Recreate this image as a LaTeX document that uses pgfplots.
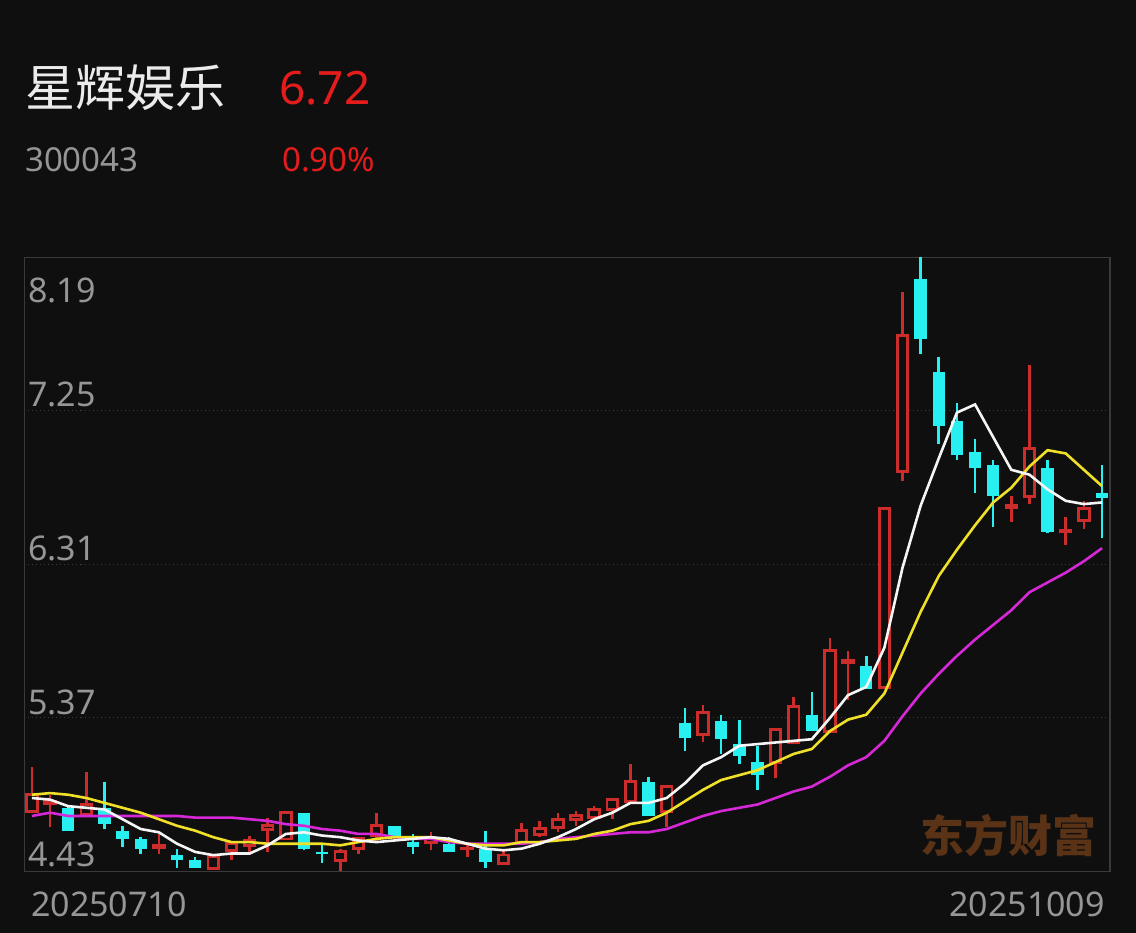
\documentclass[border=0pt]{standalone}
\usepackage{pgfplots}
\pgfplotsset{compat=1.18}
\usepackage{pgfplotstable}
\usepackage{fontspec}
\setmainfont{Noto Sans}
\newfontfamily\cjk{Noto Sans CJK SC}
\definecolor{bgc}{RGB}{15,15,15}
\definecolor{titlec}{RGB}{235,235,235}
\definecolor{lblc}{RGB}{150,150,150}
\definecolor{redtxt}{RGB}{228,28,28}
\definecolor{cup}{RGB}{205,45,42}
\definecolor{cdown}{RGB}{40,240,240}
\definecolor{ma5c}{RGB}{245,245,245}
\definecolor{ma10c}{RGB}{240,225,40}
\definecolor{ma20c}{RGB}{215,40,215}
\definecolor{framec}{RGB}{58,58,58}
\definecolor{gridc}{RGB}{60,60,60}
\definecolor{wmc}{RGB}{90,50,22}

\pgfplotstableread{
i o h l c
0 4.79 5.07 4.79 4.91
1 4.84 4.90 4.70 4.87
2 4.82 4.83 4.68 4.68
3 4.77 5.04 4.77 4.85
4 4.82 4.98 4.69 4.72
5 4.68 4.71 4.58 4.63
6 4.63 4.64 4.54 4.57
7 4.57 4.66 4.54 4.60
8 4.53 4.57 4.45 4.50
9 4.50 4.52 4.45 4.45
10 4.44 4.53 4.44 4.53
11 4.55 4.61 4.50 4.61
12 4.58 4.65 4.53 4.63
13 4.68 4.76 4.55 4.72
14 4.62 4.80 4.62 4.80
15 4.79 4.79 4.56 4.57
16 4.55 4.59 4.48 4.54
17 4.49 4.57 4.43 4.56
18 4.56 4.64 4.54 4.64
19 4.64 4.79 4.61 4.72
20 4.71 4.71 4.64 4.64
21 4.61 4.66 4.54 4.58
22 4.60 4.67 4.56 4.64
23 4.60 4.64 4.55 4.55
24 4.56 4.60 4.52 4.58
25 4.57 4.68 4.45 4.49
26 4.47 4.57 4.47 4.54
27 4.60 4.73 4.60 4.69
28 4.65 4.74 4.64 4.70
29 4.69 4.79 4.67 4.76
30 4.74 4.80 4.71 4.78
31 4.75 4.83 4.75 4.82
32 4.80 4.88 4.75 4.88
33 4.85 5.09 4.85 4.99
34 4.98 5.01 4.77 4.77
35 4.79 4.96 4.70 4.96
36 5.34 5.43 5.17 5.25
37 5.26 5.45 5.22 5.41
38 5.35 5.39 5.15 5.24
39 5.21 5.36 5.09 5.14
40 5.10 5.20 4.93 5.02
41 5.09 5.31 5.00 5.31
42 5.21 5.50 5.21 5.45
43 5.39 5.53 5.29 5.29
44 5.28 5.86 5.28 5.79
45 5.70 5.78 5.48 5.73
46 5.69 5.75 5.55 5.55
47 5.55 6.66 5.55 6.66
48 6.87 7.98 6.82 7.72
49 8.06 8.19 7.60 7.69
50 7.49 7.58 7.05 7.16
51 7.19 7.30 6.95 6.98
52 7.00 7.08 6.75 6.90
53 6.92 6.95 6.54 6.73
54 6.65 6.73 6.57 6.68
55 6.72 7.53 6.68 7.03
56 6.90 6.95 6.50 6.51
57 6.50 6.60 6.43 6.53
58 6.57 6.70 6.53 6.66
59 6.75 6.92 6.47 6.72
}\ohlc

\pgfplotstableread{
i ma5 ma10 ma20
0 4.88 4.90 4.77
1 4.87 4.91 4.79
2 4.83 4.90 4.77
3 4.82 4.88 4.77
4 4.81 4.85 4.77
5 4.75 4.82 4.77
6 4.69 4.79 4.77
7 4.67 4.75 4.77
8 4.60 4.71 4.77
9 4.55 4.68 4.76
10 4.53 4.64 4.76
11 4.54 4.61 4.76
12 4.54 4.61 4.75
13 4.59 4.60 4.74
14 4.66 4.60 4.72
15 4.67 4.60 4.71
16 4.65 4.60 4.69
17 4.64 4.59 4.68
18 4.62 4.61 4.66
19 4.61 4.63 4.66
20 4.62 4.64 4.64
21 4.63 4.64 4.63
22 4.64 4.64 4.63
23 4.63 4.62 4.61
24 4.60 4.60 4.60
25 4.57 4.59 4.60
26 4.56 4.59 4.60
27 4.57 4.61 4.60
28 4.60 4.61 4.61
29 4.64 4.62 4.63
30 4.69 4.63 4.64
31 4.75 4.66 4.65
32 4.79 4.68 4.66
33 4.85 4.72 4.67
34 4.85 4.74 4.67
35 4.88 4.79 4.69
36 4.97 4.86 4.73
37 5.08 4.93 4.77
38 5.13 4.99 4.80
39 5.20 5.02 4.82
40 5.21 5.05 4.84
41 5.22 5.10 4.88
42 5.23 5.15 4.92
43 5.24 5.18 4.95
44 5.37 5.29 5.01
45 5.51 5.36 5.08
46 5.56 5.39 5.13
47 5.80 5.52 5.23
48 6.29 5.77 5.38
49 6.67 6.02 5.52
50 6.96 6.24 5.64
51 7.24 6.40 5.75
52 7.29 6.55 5.85
53 7.09 6.69 5.94
54 6.89 6.78 6.03
55 6.86 6.91 6.14
56 6.77 7.01 6.20
57 6.70 6.99 6.26
58 6.68 6.89 6.33
59 6.69 6.79 6.41
}\ma

\pgfplotsset{
  upc/.style={restrict expr to domain={\thisrow{c}-\thisrow{o}}{0:100}},
  dnc/.style={restrict expr to domain={\thisrow{o}-\thisrow{c}}{0.001:100}},
  bar/.style 2 args={draw=none, mark=none, error bars/.cd, y dir=plus, y explicit, error mark=none, error bar style={draw=#1, solid, line width=#2}},
}

\begin{document}
\begin{tikzpicture}
\fill[bgc] (0pt,0pt) rectangle (1136pt,933pt);
% header
\node[anchor=base west, inner sep=0, text=titlec] at (25pt,826.5pt) {\cjk\fontsize{50}{52}\selectfont 星辉娱乐};
\node[anchor=base west, inner sep=0, text=redtxt] at (279pt,828pt) {\fontsize{46}{48}\selectfont 6.72};
\node[anchor=base west, inner sep=0, text=lblc] at (25pt,761pt) {\fontsize{33}{35}\selectfont 300043};
\node[anchor=base west, inner sep=0, text=redtxt] at (282pt,761pt) {\fontsize{33}{35}\selectfont 0.90\%};
% watermark
\node[anchor=center, inner sep=0, text=wmc] at (1008pt,97pt) {\cjk\bfseries\fontsize{44}{46}\selectfont 东方财富};
\begin{axis}[
  at={(24.5pt,61.5pt)}, anchor=south west,
  scale only axis, width=1085.5pt, height=614pt,
  xmin=-0.41, xmax=59.44, ymin=4.43, ymax=8.19,
  axis line style={draw=framec, line width=1.5pt},
  xtick=\empty, ytick={5.37,6.31,7.25}, yticklabels={},
  major tick length=0pt,
  ymajorgrids, grid style={draw=gridc, line width=1pt, dash pattern=on 1pt off 3pt},
]
% wicks
\addplot[upc, bar={cup}{2.6pt}] table[x=i, y=l, y error plus expr=\thisrow{h}-\thisrow{l}] {\ohlc};
\addplot[dnc, bar={cdown}{2.6pt}] table[x=i, y=l, y error plus expr=\thisrow{h}-\thisrow{l}] {\ohlc};
% falling candles: filled bodies
\addplot[dnc, bar={cdown}{12.5pt}] table[x=i, y=c, y error plus expr=\thisrow{o}-\thisrow{c}] {\ohlc};
% rising candles: hollow bodies
\addplot[upc, bar={cup}{13.5pt}] table[x=i, y=o, y error plus expr=\thisrow{c}-\thisrow{o}] {\ohlc};
\addplot[restrict expr to domain={\thisrow{c}-\thisrow{o}}{0.037:100}, bar={bgc}{7.7pt}] table[x=i, y expr=\thisrow{o}+0.0178, y error plus expr=\thisrow{c}-\thisrow{o}-0.0356] {\ohlc};
% moving averages
\addplot[ma20c, line width=2.6pt, mark=none] table[x=i, y=ma20] {\ma};
\addplot[ma10c, line width=2.6pt, mark=none] table[x=i, y=ma10] {\ma};
\addplot[ma5c, line width=2.6pt, mark=none] table[x=i, y=ma5] {\ma};
\end{axis}
% y labels
\begin{scope}[every node/.style={anchor=base west, inner sep=0, text=lblc, font=\fontsize{34}{36}\selectfont}]
\node at (28pt,630pt) {8.19};
\node at (28pt,526pt) {7.25};
\node at (28pt,372pt) {6.31};
\node at (28pt,218pt) {5.37};
\node at (28pt,66pt) {4.43};
\end{scope}
% x labels
\node[anchor=base west, inner sep=0, text=lblc] at (31pt,16pt) {\fontsize{34}{36}\selectfont 20250710};
\node[anchor=base east, inner sep=0, text=lblc] at (1105pt,16pt) {\fontsize{34}{36}\selectfont 20251009};
\end{tikzpicture}
\end{document}
